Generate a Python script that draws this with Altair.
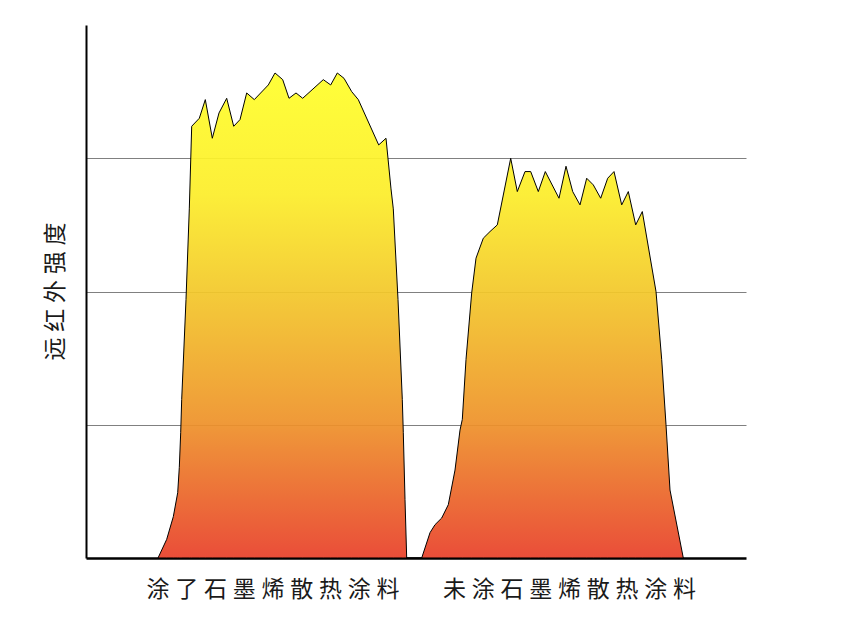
import altair as alt
import pandas as pd

# Spectrum outline (x: arbitrary position units, y: intensity, gridline spacing = 1)
x_vals = [
    72, 80.7, 87.3, 91.7, 93.3, 94.7, 95.7, 100, 103.3, 105.7,
    113.3, 119.3, 126.3, 133, 140.7, 147.7, 154, 160.7, 168.3, 182.3,
    189, 196.7, 203, 210, 216.7, 237.3, 244.7, 251.3, 258, 265.7,
    272.3, 292.7, 300, 305, 307.3, 312, 316.3, 317.3, 319, 320.7,
    335.7, 344, 349, 355.7, 362.3, 369, 374, 376.3, 380, 385.7,
    390, 397.3, 404, 411.3, 424.7, 431.3, 439, 444.7, 452.3, 459.3,
    473, 480, 486.7, 494, 500.7, 507.3, 514.7, 521.7, 528, 535.7,
    542.3, 549.7, 556.3, 570, 575.7, 580, 584, 597.3,
]
y_vals = [
    0.00, 0.14, 0.31, 0.49, 0.68, 0.94, 1.19, 1.94, 2.62, 3.24,
    3.30, 3.44, 3.15, 3.34, 3.45, 3.24, 3.29, 3.49, 3.44, 3.55,
    3.64, 3.59, 3.45, 3.49, 3.45, 3.59, 3.55, 3.64, 3.60, 3.50,
    3.44, 3.10, 3.15, 2.77, 2.62, 1.94, 1.19, 0.94, 0.44, 0.00,
    0.00, 0.19, 0.25, 0.30, 0.40, 0.66, 0.96, 1.04, 1.49, 1.99,
    2.25, 2.40, 2.45, 2.50, 3.00, 2.75, 2.90, 2.90, 2.75, 2.90,
    2.70, 2.94, 2.75, 2.65, 2.85, 2.80, 2.70, 2.85, 2.90, 2.65,
    2.75, 2.50, 2.60, 2.00, 1.49, 1.00, 0.51, 0.00,
]

category_labels = ["涂了石墨烯散热涂料", "未涂石墨烯散热涂料"]
category_centers = [186.5, 483]
y_title = "远红外强度"
grid_values = [1, 2, 3]

SP = "\u2005"
lab0 = SP.join(list(category_labels[0]))
lab1 = SP.join(list(category_labels[1]))
title_txt = SP.join(list(y_title))

df = pd.DataFrame({"x": x_vals, "y": y_vals})

FONT = "Noto Sans CJK SC"

gradient = alt.Gradient(
    gradient="linear",
    x1=0, x2=0, y1=0, y2=1,
    stops=[
        alt.GradientStop(color="#ffff2a", offset=0),
        alt.GradientStop(color="#fced2a", offset=0.25),
        alt.GradientStop(color="#f3c82a", offset=0.45),
        alt.GradientStop(color="#ee922a", offset=0.72),
        alt.GradientStop(color="#e8402a", offset=1),
    ],
)

chart = alt.Chart(df).mark_area(
    fill=gradient, fillOpacity=0.93, stroke="black", strokeWidth=1, interpolate="linear"
).encode(
    x=alt.X(
        "x:Q",
        scale=alt.Scale(domain=[0, 660], nice=False, zero=False),
        axis=alt.Axis(
            values=category_centers,
            labelExpr=f"datum.value < 300 ? '{lab0}' : '{lab1}'",
            grid=False, ticks=False, tickSize=0,
            domainColor="black", domainWidth=2.5,
            labelFont=FONT, labelFontSize=23, labelColor="#1a1a1a",
            labelBaseline="middle", labelAlign="center", labelPadding=31,
            labelFlush=False, labelOverlap=False, labelBound=False, labelLimit=0,
            title=None,
        ),
    ),
    y=alt.Y(
        "y:Q",
        scale=alt.Scale(domain=[0, 4], nice=False),
        axis=alt.Axis(
            values=grid_values, grid=True, gridColor="#808080", gridWidth=1,
            ticks=False, labels=False,
            domainColor="black", domainWidth=2,
            title=title_txt, titleFont=FONT, titleFontSize=23, titleFontWeight="normal",
            titleColor="#1a1a1a", titleX=-31, titleY=266, titleAngle=270,
            titleAlign="center", titleBaseline="middle", titleLimit=0,
        ),
    ),
).properties(
    width=660, height=533,
    autosize=alt.AutoSizeParams(type="none"),
    padding={"left": 78, "top": 17, "right": 10, "bottom": 50},
    background="white",
).configure_view(stroke=None)

chart.save("out.html", embed_options={"renderer": "svg", "actions": False})
